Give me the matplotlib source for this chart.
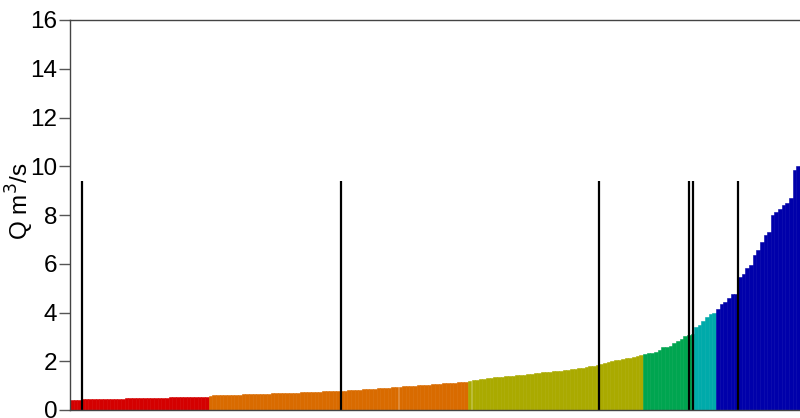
import numpy as np
import matplotlib.pyplot as plt

plt.rcParams['font.family'] = ['Liberation Sans', 'DejaVu Sans']

# sorted discharge per class (m3/s)
q_red = [0.42, 0.43, 0.43, 0.44, 0.44, 0.44, 0.45, 0.45, 0.45, 0.46, 0.46, 0.46,
         0.47, 0.47, 0.47, 0.48, 0.48, 0.48, 0.49, 0.49, 0.49, 0.50, 0.50, 0.50,
         0.51, 0.51, 0.51, 0.52, 0.52, 0.52, 0.53, 0.53, 0.53, 0.54, 0.54, 0.54,
         0.55, 0.55]
q_orange = [0.59, 0.60, 0.60, 0.61, 0.61, 0.62, 0.62, 0.63, 0.63, 0.64, 0.64, 0.65,
            0.65, 0.66, 0.66, 0.67, 0.67, 0.68, 0.68, 0.69, 0.69, 0.70, 0.70, 0.71,
            0.71, 0.72, 0.72, 0.73, 0.74, 0.74, 0.75, 0.76, 0.76, 0.77, 0.77, 0.78,
            0.79, 0.80, 0.81, 0.82, 0.83, 0.84, 0.85, 0.86, 0.87, 0.88, 0.89, 0.90,
            0.91, 0.92, 0.93, 0.94, 0.95, 0.97, 0.98, 0.99, 1.00, 1.01, 1.02, 1.03,
            1.04, 1.05, 1.07, 1.08, 1.09, 1.10, 1.11, 1.12, 1.13, 1.15, 1.16]
q_olive = [1.19, 1.22, 1.25, 1.27, 1.29, 1.31, 1.33, 1.34, 1.36, 1.37, 1.39, 1.40,
           1.41, 1.42, 1.44, 1.45, 1.47, 1.49, 1.50, 1.52, 1.54, 1.55, 1.57, 1.58,
           1.60, 1.62, 1.63, 1.65, 1.67, 1.69, 1.71, 1.73, 1.76, 1.79, 1.82, 1.86,
           1.90, 1.94, 1.97, 2.01, 2.04, 2.07, 2.09, 2.12, 2.15, 2.18, 2.22, 2.26]
q_green = [2.30, 2.32, 2.35, 2.40, 2.46, 2.60, 2.60, 2.62, 2.75, 2.85, 2.92, 3.02,
           3.08, 3.12]
q_teal = [3.42, 3.50, 3.65, 3.80, 3.92, 4.00]
q_blue = [4.13, 4.35, 4.45, 4.60, 4.76, 4.76, 5.47, 5.60, 5.81, 5.95, 6.36, 6.55,
          6.90, 7.18, 7.32, 8.00, 8.14, 8.25, 8.40, 8.50, 8.70, 9.85, 10.0]

groups = [q_red, q_orange, q_olive, q_green, q_teal, q_blue]
group_colors = ['#d40000', '#d96b00', '#aaaa00', '#00a550', '#00aaaa', '#0000aa']

# marker lines (bar index) and their height
marks = [2.8, 73.7, 144.4, 169.1, 170.2, 182.5]
mark_top = 9.4

q = np.concatenate(groups)
colors = []
for g, c in zip(groups, group_colors):
    colors += [c] * len(g)
x = np.arange(len(q))

fig = plt.figure(figsize=(8, 4.18), dpi=100)
ax = fig.add_axes([70/800, 8/418, 730/800, 390/418])

ax.bar(x, q, width=1.0, color=colors, edgecolor=colors, linewidth=0.4)
ax.vlines(marks, 0, mark_top, color='black', linewidth=1.6)

ax.set_xlim(-0.5, len(q) - 0.5)
ax.set_ylim(0, 16)
ax.set_yticks(np.arange(0, 17, 2))
ax.set_xticks([])
ax.tick_params(axis='y', labelsize=17.5, length=8, width=1, color='#555555', pad=1)

ax.spines['right'].set_visible(False)
for s in ['left', 'top', 'bottom']:
    ax.spines[s].set_color('#444444')
    ax.spines[s].set_linewidth(1)

ax.set_ylabel('Q m$^3$/s', fontsize=17.5)
ax.yaxis.set_label_coords(-0.047, 0.536)

fig.savefig('out.png', dpi=100)
